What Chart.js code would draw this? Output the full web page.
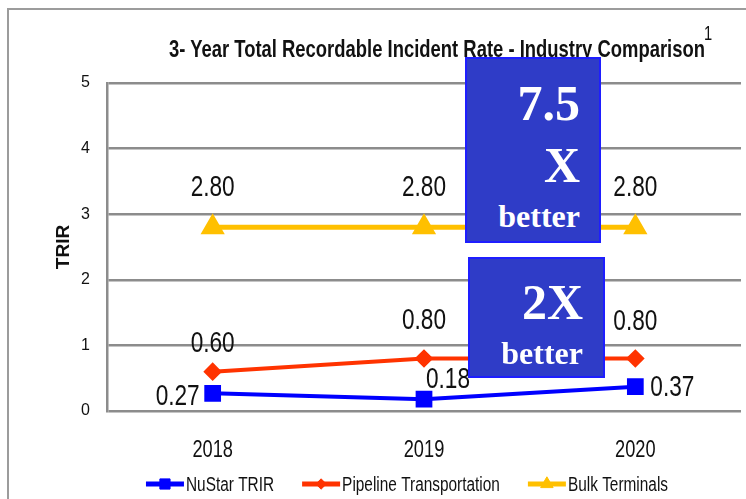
<!DOCTYPE html>
<html>
<head>
<meta charset="utf-8">
<script src="https://cdn.jsdelivr.net/npm/chart.js@4/dist/chart.umd.min.js"></script>
<style>
  html, body { margin: 0; padding: 0; background: #fff; }
  #wrap { position: relative; width: 746px; height: 499px; overflow: hidden; }
  #frame { position: absolute; left: 7px; top: 8px; right: -5px; bottom: -5px;
           border-left: 2px solid #9c9c9c; border-top: 2px solid #9c9c9c; }
  #chart { position: absolute; left: 0; top: 0; }
  .title { position: absolute; left: 169px; top: 37px; white-space: nowrap;
           transform: scaleX(0.768); transform-origin: left top;
           font: bold 24px/24px 'Liberation Sans', sans-serif; color: #111; }
  .sup { position: absolute; left: 704px; top: 22px;
         transform: scaleX(0.7); transform-origin: left top;
         font: 21px/21px 'Liberation Sans', sans-serif; color: #111; }
  .callout { position: absolute; background: #2f3cc7; border: 2px solid #1e1eff; box-sizing: border-box; }
  .callout span { position: absolute; color: #fff; white-space: nowrap;
                  font-family: 'Liberation Serif', 'DejaVu Serif', serif; font-weight: bold; }
  .big { font-size: 50px; line-height: 50px; }
  .small { font-size: 32px; line-height: 32px; }
</style>
</head>
<body>
<div id="wrap">
  <div id="frame"></div>
  <canvas id="chart" width="746" height="499"></canvas>
  <div class="title">3- Year Total Recordable Incident Rate - Industry Comparison</div>
  <div class="sup">1</div>
  <div class="callout" style="left:465px; top:57px; width:136px; height:186px;">
    <span class="big" style="right:19px; top:19px;">7.5</span>
    <span class="big" style="right:19px; top:81px;">X</span>
    <span class="small" style="right:19px; top:141px;">better</span>
  </div>
  <div class="callout" style="left:468px; top:257px; width:137px; height:121px;">
    <span class="big" style="right:20px; top:18px;">2X</span>
    <span class="small" style="right:20px; top:78px;">better</span>
  </div>
</div>
<script>
const years = ['2018', '2019', '2020'];
const nustarTrir = [0.27, 0.18, 0.37];
const pipelineTrir = [0.60, 0.80, 0.80];
const bulkTrir = [2.80, 2.80, 2.80];

const sans = "'Liberation Sans', sans-serif";

// where each value label sits relative to its point: [dx, dy, textAlign]
const labelPlacement = [
  [[-13, 4, 'right'], [2, -19, 'left'], [15, 1, 'left']],
  [[0, -28, 'center'], [0, -38, 'center'], [0, -37, 'center']],
  [[0, -39, 'center'], [0, -39, 'center'], [0, -39, 'center']]
];

// the original uses a tall, narrow face; squeeze Liberation Sans to match
function narrowText(ctx, text, x, y, align, font, squeeze) {
  ctx.save();
  ctx.font = font;
  ctx.fillStyle = '#111';
  ctx.textAlign = align;
  ctx.textBaseline = 'middle';
  ctx.translate(x, y);
  ctx.scale(squeeze, 1);
  ctx.fillText(text, 0, 0);
  ctx.restore();
}

const valueLabels = {
  id: 'valueLabels',
  afterDatasetsDraw(chart) {
    const ctx = chart.ctx;
    chart.data.datasets.forEach((ds, i) => {
      chart.getDatasetMeta(i).data.forEach((pt, j) => {
        const [dx, dy, align] = labelPlacement[i][j];
        narrowText(ctx, ds.data[j].toFixed(2), pt.x + dx, pt.y + dy, align, '29px ' + sans, 0.78);
      });
    });
  }
};

const xLabels = {
  id: 'xLabels',
  afterDraw(chart) {
    const scale = chart.scales.x;
    scale.ticks.forEach((t, i) => {
      narrowText(chart.ctx, scale.getLabelForValue(t.value), scale.getPixelForTick(i), 450, 'center', '24px ' + sans, 0.76);
    });
  }
};

const lineLegend = {
  id: 'lineLegend',
  afterDraw(chart) {
    const ctx = chart.ctx;
    const y = 484, lineLen = 38, gap = 2, itemGap = 28, squeeze = 0.77;
    const font = '20px ' + sans;
    ctx.save();
    ctx.font = font;
    const items = chart.data.datasets.map(ds => ({ ds, w: lineLen + gap + ctx.measureText(ds.label).width * squeeze }));
    const total = items.reduce((s, it) => s + it.w, 0) + itemGap * (items.length - 1);
    let x = 407 - total / 2;
    items.forEach(({ ds, w }) => {
      ctx.strokeStyle = ds.borderColor;
      ctx.lineWidth = 5;
      ctx.beginPath();
      ctx.moveTo(x, y);
      ctx.lineTo(x + lineLen, y);
      ctx.stroke();
      ctx.fillStyle = ds.borderColor;
      ctx.lineWidth = 1;
      Chart.helpers.drawPoint(ctx, { pointStyle: ds.pointStyle, radius: ds.pointRadius * 0.8, rotation: 0, borderWidth: 1 }, x + lineLen / 2, y);
      narrowText(ctx, ds.label, x + lineLen + gap, y + 1, 'left', font, squeeze);
      x += w + itemGap;
    });
    ctx.restore();
  }
};

new Chart(document.getElementById('chart'), {
  type: 'line',
  data: {
    labels: years,
    datasets: [{
      label: 'NuStar TRIR',
      data: nustarTrir,
      borderColor: '#0000ff',
      backgroundColor: '#0000ff',
      borderWidth: 4,
      pointStyle: 'rect',
      pointRadius: 9,
      pointHoverRadius: 9,
      tension: 0
    }, {
      label: 'Pipeline Transportation',
      data: pipelineTrir,
      borderColor: '#ff3300',
      backgroundColor: '#ff3300',
      borderWidth: 4,
      pointStyle: 'rectRot',
      pointRadius: 6.5,
      pointHoverRadius: 6.5,
      tension: 0
    }, {
      label: 'Bulk Terminals',
      data: bulkTrir,
      borderColor: '#ffc000',
      backgroundColor: '#ffc000',
      borderWidth: 5,
      pointStyle: 'triangle',
      pointRadius: 9,
      pointHoverRadius: 9,
      tension: 0
    }]
  },
  options: {
    responsive: false,
    animation: false,
    layout: { autoPadding: false, padding: { top: 83, right: 5, bottom: 36, left: 0 } },
    plugins: { legend: { display: false }, tooltip: { enabled: false } },
    scales: {
      x: {
        offset: true,
        grid: { display: false, drawTicks: false },
        border: { display: false },
        ticks: { display: false },
        afterFit(scale) { scale.height = 52; }
      },
      y: {
        min: 0,
        max: 5,
        ticks: { stepSize: 1, color: '#111', padding: 17, font: { family: sans, size: 16 } },
        grid: { color: '#8c8c8c', lineWidth: 2.5, drawTicks: false },
        border: { color: '#8c8c8c', width: 2.5 },
        title: {
          display: true,
          text: 'TRIR',
          color: '#111',
          padding: { top: 52, bottom: 0 },
          font: { family: sans, size: 19, weight: 'bold' }
        },
        afterFit(scale) { scale.width = 107; }
      }
    }
  },
  plugins: [valueLabels, xLabels, lineLegend]
});
</script>
</body>
</html>
